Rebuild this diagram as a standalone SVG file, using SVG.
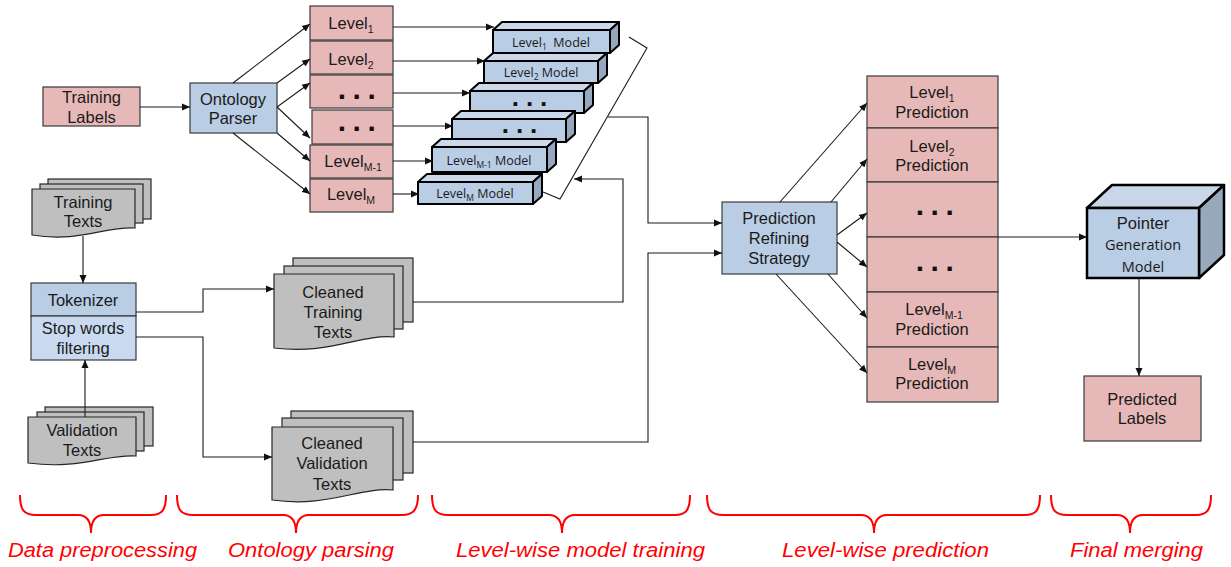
<svg xmlns="http://www.w3.org/2000/svg" width="1231" height="567" viewBox="0 0 1231 567">
<defs>
<marker id="ah" markerUnits="userSpaceOnUse" markerWidth="9" markerHeight="8" refX="8" refY="4" orient="auto">
<path d="M0,0.5 L8,4 L0,7.5 Z" fill="#111"/>
</marker>
<style>
.t{font-family:"Liberation Sans",Arial,sans-serif;font-size:16.5px;fill:#1a1a1a;text-anchor:middle}
.m{font-family:"Open Sans","Liberation Sans",sans-serif;font-size:12.5px;fill:#1a1a1a;text-anchor:middle}
.pg{font-family:"Open Sans","Liberation Sans",sans-serif;font-size:14.5px;fill:#1a1a1a;text-anchor:middle}
.d{font-family:"Liberation Sans",Arial,sans-serif;font-size:30px;font-weight:bold;fill:#111;text-anchor:middle;letter-spacing:6.5px}
.dm{font-family:"Liberation Sans",Arial,sans-serif;font-size:26px;font-weight:bold;fill:#111;text-anchor:middle;letter-spacing:7px}
.pink{fill:#e6b9b8;stroke:#3a3a3a;stroke-width:1.2}
.blue{fill:#b9cde5;stroke:#3a3a3a;stroke-width:1.2}
.blue2{fill:#c9daf0;stroke:#3a3a3a;stroke-width:1.2}
.gray{fill:#bfbfbf;stroke:#262626;stroke-width:1.2}
.mf{fill:#b9cde5;stroke:#000;stroke-width:2;stroke-linejoin:round}
.mt{fill:#cbd9ea;stroke:#000;stroke-width:2;stroke-linejoin:round}
.ms{fill:#95a8bf;stroke:#000;stroke-width:2;stroke-linejoin:round}
.c{fill:none;stroke:#1a1a1a;stroke-width:1.1}
.ca{fill:none;stroke:#1a1a1a;stroke-width:1.1;marker-end:url(#ah)}
.br{fill:none;stroke:#ff0000;stroke-width:2}
.lb{font-family:"Liberation Sans",Arial,sans-serif;font-size:19.5px;font-style:italic;fill:#ff0000}
</style>
</defs>
<rect width="1231" height="567" fill="#fff"/>

<g id="training-labels">
<rect class="pink" x="43" y="87" width="97" height="39"/>
<text class="t" x="91.5" y="103">Training</text>
<text class="t" x="91.5" y="123">Labels</text>
</g>

<g id="ontology-parser">
<rect class="blue" x="190" y="83" width="87" height="50"/>
<text class="t" x="233" y="105">Ontology</text>
<text class="t" x="233" y="124">Parser</text>
</g>

<g id="level-1">
<rect class="pink" x="310" y="6" width="83" height="34"/>
<text class="t" x="351" y="29">Level<tspan font-size="10.5" dy="4">1</tspan></text>
</g>
<g id="level-2">
<rect class="pink" x="310" y="41" width="83" height="33"/>
<text class="t" x="351" y="65">Level<tspan font-size="10.5" dy="4">2</tspan></text>
</g>
<g id="level-dots-1">
<rect class="pink" x="310" y="75" width="83" height="33"/>
<text class="d" x="360" y="99">...</text>
</g>
<g id="level-dots-2">
<rect class="pink" x="312" y="110" width="81" height="34"/>
<text class="d" x="360" y="131">...</text>
</g>
<g id="level-m-1">
<rect class="pink" x="310" y="145" width="83" height="33"/>
<text class="t" x="353" y="167">Level<tspan font-size="10.5" dy="4">M-1</tspan></text>
</g>
<g id="level-m">
<rect class="pink" x="310" y="179" width="83" height="33"/>
<text class="t" x="351" y="200">Level<tspan font-size="10.5" dy="4">M</tspan></text>
</g>

<g id="model-1">
<polygon class="mt" points="493,30 502,22 619,22 610,30"/>
<polygon class="ms" points="610,30 619,22 619,45 610,53"/>
<rect class="mf" x="493" y="30" width="117" height="23"/>
<text class="m" x="551" y="47">Level<tspan font-size="8.5" dy="2.5">1</tspan><tspan dy="-2.5">&#160; Model</tspan></text>
</g>
<g id="model-2">
<polygon class="mt" points="484,61 493,53 607,53 598,61"/>
<polygon class="ms" points="598,61 607,53 607,75 598,83"/>
<rect class="mf" x="484" y="61" width="114" height="22"/>
<text class="m" x="541" y="77">Level<tspan font-size="8.5" dy="2.5">2</tspan><tspan dy="-2.5"> Model</tspan></text>
</g>
<g id="model-dots-1">
<polygon class="mt" points="470,91 479,83 593,83 584,91"/>
<polygon class="ms" points="584,91 593,83 593,105 584,113"/>
<rect class="mf" x="470" y="91" width="114" height="22"/>
<text class="dm" x="533" y="106">...</text>
</g>
<g id="model-dots-2">
<polygon class="mt" points="452,119 461,111 575,111 566,119"/>
<polygon class="ms" points="566,119 575,111 575,134 566,142"/>
<rect class="mf" x="452" y="119" width="114" height="23"/>
<text class="dm" x="523" y="133">...</text>
</g>
<g id="model-m-1">
<polygon class="mt" points="432,147 441,139 556,139 547,147"/>
<polygon class="ms" points="547,147 556,139 556,164 547,172"/>
<rect class="mf" x="432" y="147" width="115" height="25"/>
<text class="m" x="489" y="165">Level<tspan font-size="8.5" dy="2.5">M-1</tspan><tspan dy="-2.5"> Model</tspan></text>
</g>
<g id="model-m">
<polygon class="mt" points="418,182 427,174 542,174 533,182"/>
<polygon class="ms" points="533,182 542,174 542,196 533,204"/>
<rect class="mf" x="418" y="182" width="115" height="22"/>
<text class="m" x="475" y="198">Level<tspan font-size="8.5" dy="2.5">M</tspan><tspan dy="-2.5"> Model</tspan></text>
</g>

<g id="training-texts">
<rect class="gray" x="48" y="179" width="103" height="40"/>
<rect class="gray" x="40" y="184" width="103" height="39"/>
<path class="gray" d="M32,189 H135 V228 C105,226 80,243 32,235 Z"/>
<text class="t" x="83" y="208">Training</text>
<text class="t" x="83" y="227">Texts</text>
</g>

<g id="tokenizer">
<rect class="blue" x="31" y="283" width="105" height="33"/>
<text class="t" x="83" y="306">Tokenizer</text>
</g>
<g id="stop-words">
<rect class="blue2" x="31" y="316" width="105" height="44"/>
<text class="t" x="83" y="334">Stop words</text>
<text class="t" x="83" y="354">filtering</text>
</g>

<g id="validation-texts">
<rect class="gray" x="45" y="407" width="108" height="39"/>
<rect class="gray" x="37" y="412" width="107" height="39"/>
<path class="gray" d="M28,417 H136 V456 C106,454 80,470 28,463 Z"/>
<text class="t" x="82" y="436">Validation</text>
<text class="t" x="82" y="456">Texts</text>
</g>

<g id="cleaned-training">
<rect class="gray" x="293" y="258" width="120" height="64"/>
<rect class="gray" x="284" y="266" width="119" height="63"/>
<path class="gray" d="M274,274 H394 V337 C360,334 330,355 274,348 Z"/>
<text class="t" x="333" y="298">Cleaned</text>
<text class="t" x="333" y="318">Training</text>
<text class="t" x="333" y="338">Texts</text>
</g>

<g id="cleaned-validation">
<rect class="gray" x="291" y="411" width="122" height="62"/>
<rect class="gray" x="282" y="418" width="121" height="62"/>
<path class="gray" d="M272,427 H393 V490 C358,487 328,508 272,500 Z"/>
<text class="t" x="332" y="449">Cleaned</text>
<text class="t" x="332" y="469">Validation</text>
<text class="t" x="332" y="490">Texts</text>
</g>

<g id="prediction-refining">
<rect class="blue" x="722" y="202" width="115" height="72"/>
<text class="t" x="779" y="224">Prediction</text>
<text class="t" x="779" y="244">Refining</text>
<text class="t" x="779" y="264">Strategy</text>
</g>

<g id="pred-1">
<rect class="pink" x="867" y="76" width="131" height="52"/>
<text class="t" x="932" y="98">Level<tspan font-size="10.5" dy="4">1</tspan></text>
<text class="t" x="932" y="118">Prediction</text>
</g>
<g id="pred-2">
<rect class="pink" x="867" y="128" width="131" height="54"/>
<text class="t" x="932" y="152">Level<tspan font-size="10.5" dy="4">2</tspan></text>
<text class="t" x="932" y="171">Prediction</text>
</g>
<g id="pred-dots-1">
<rect class="pink" x="867" y="182" width="131" height="55"/>
<text class="d" x="938" y="215">...</text>
</g>
<g id="pred-dots-2">
<rect class="pink" x="867" y="237" width="131" height="55"/>
<text class="d" x="938" y="271">...</text>
</g>
<g id="pred-m-1">
<rect class="pink" x="867" y="292" width="131" height="55"/>
<text class="t" x="934" y="315">Level<tspan font-size="10.5" dy="4">M-1</tspan></text>
<text class="t" x="932" y="335">Prediction</text>
</g>
<g id="pred-m">
<rect class="pink" x="867" y="347" width="131" height="55"/>
<text class="t" x="932" y="370">Level<tspan font-size="10.5" dy="4">M</tspan></text>
<text class="t" x="932" y="389">Prediction</text>
</g>

<g id="pointer-generation">
<polygon fill="#c8d6e8" stroke="#000" stroke-width="2.5" stroke-linejoin="round" points="1087,208 1112,185 1224,185 1199,208"/>
<polygon fill="#97a9bd" stroke="#000" stroke-width="2.5" stroke-linejoin="round" points="1199,208 1224,185 1224,255 1199,278"/>
<rect fill="#b9cde5" stroke="#000" stroke-width="2.5" x="1087" y="208" width="112" height="70"/>
<text class="t" x="1143" y="229">Pointer</text>
<text class="pg" x="1143" y="250">Generation</text>
<text class="pg" x="1143" y="272">Model</text>
</g>

<g id="predicted-labels">
<rect class="pink" x="1084" y="376" width="117" height="65"/>
<text class="t" x="1142" y="405">Predicted</text>
<text class="t" x="1142" y="424">Labels</text>
</g>

<g id="connectors">
<path class="ca" d="M140,107 H190"/>
<path class="ca" d="M233,83 L310,24"/>
<path class="ca" d="M277,83 L310,59"/>
<path class="ca" d="M277,107 L310,83"/>
<path class="ca" d="M277,107 L310,138"/>
<path class="ca" d="M277,133 L310,161"/>
<path class="ca" d="M233,133 L310,194"/>
<path class="ca" d="M393,27 H494"/>
<path class="ca" d="M393,61 H485"/>
<path class="ca" d="M393,93 H470"/>
<path class="ca" d="M393,126 H453"/>
<path class="ca" d="M393,161 H433"/>
<path class="ca" d="M393,194 H419"/>
<path class="c" d="M629,37 L647,48 L560,199 L543,192"/>
<path class="ca" d="M608,117 H648 V223 H722"/>
<path class="ca" d="M413,302 H623 V179 H574"/>
<path class="ca" d="M413,442 H648 V253 H722"/>
<path class="ca" d="M780,202 L867,103"/>
<path class="ca" d="M831,202 L867,159"/>
<path class="ca" d="M837,235 L867,213"/>
<path class="ca" d="M837,242 L867,267"/>
<path class="ca" d="M828,274 L867,318"/>
<path class="ca" d="M776,274 L867,373"/>
<path class="ca" d="M998,237 H1087"/>
<path class="ca" d="M1139,278 V376"/>
<path class="ca" d="M83,236 V283"/>
<path class="ca" d="M85,417 V360"/>
<path class="ca" d="M136,312 H203 V289 H274"/>
<path class="ca" d="M136,337 H203 V457 H272"/>
</g>

<g id="stage-braces">
<path class="br" d="M20,495 C20,510 24,515 36,515 H78 C86,515 91,520 91,533 C91,520 96,515 104,515 H151 C162,515 166,510 166,495"/>
<path class="br" d="M177,495 C177,510 181,515 193,515 H283 C291,515 296,520 296,533 C296,520 301,515 309,515 H402 C413,515 418,510 418,495"/>
<path class="br" d="M432,495 C432,510 436,515 448,515 H549 C557,515 562,520 562,533 C562,520 567,515 575,515 H675 C686,515 690,510 690,495"/>
<path class="br" d="M707,495 C707,510 711,515 723,515 H861 C869,515 874,520 874,533 C874,520 879,515 887,515 H1025 C1036,515 1040,510 1040,495"/>
<path class="br" d="M1051,495 C1051,510 1055,515 1067,515 H1117 C1125,515 1130,520 1130,533 C1130,520 1135,515 1143,515 H1196 C1207,515 1211,510 1211,495"/>
<text class="lb" x="8" y="557" textLength="189" lengthAdjust="spacingAndGlyphs">Data preprocessing</text>
<text class="lb" x="228" y="557" textLength="166" lengthAdjust="spacingAndGlyphs">Ontology parsing</text>
<text class="lb" x="456" y="557" textLength="249" lengthAdjust="spacingAndGlyphs">Level-wise model training</text>
<text class="lb" x="782" y="557" textLength="207" lengthAdjust="spacingAndGlyphs">Level-wise prediction</text>
<text class="lb" x="1070" y="557" textLength="133" lengthAdjust="spacingAndGlyphs">Final merging</text>
</g>
</svg>
